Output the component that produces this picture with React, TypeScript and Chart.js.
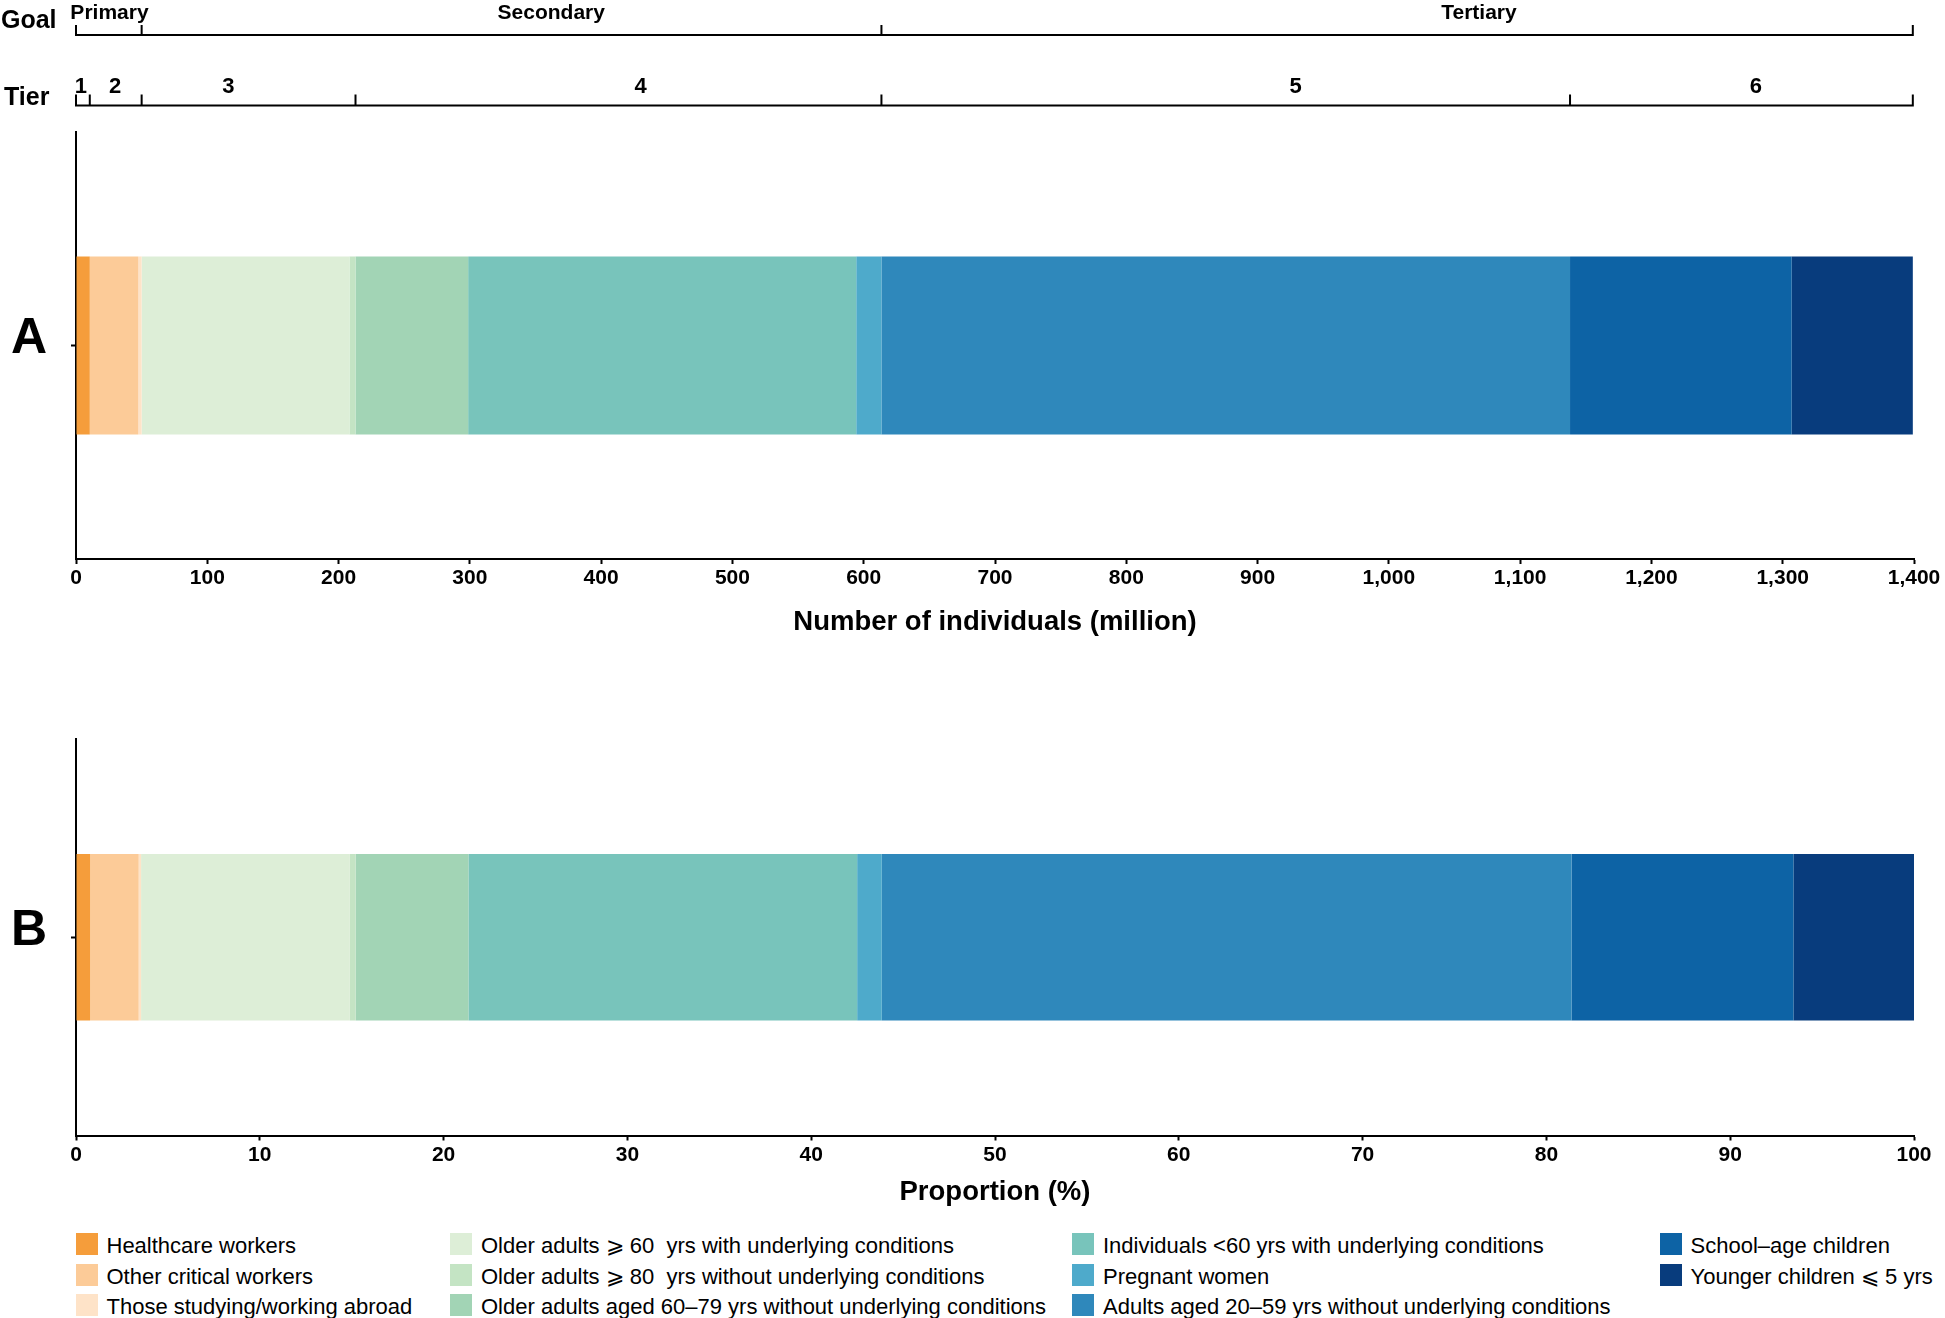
import React, { useEffect, useRef } from 'react';
import { Chart, registerables } from 'chart.js';

Chart.register(...registerables);

// ---------------- data ----------------
const groupLabels = [
  'Healthcare workers',
  'Other critical workers',
  'Those studying/working abroad',
  'Older adults \u2A7E 60  yrs with underlying conditions',
  'Older adults \u2A7E 80  yrs without underlying conditions',
  'Older adults aged 60\u201379 yrs without underlying conditions',
  'Individuals <60 yrs with underlying conditions',
  'Pregnant women',
  'Adults aged 20\u201359 yrs without underlying conditions',
  'School\u2013age children',
  'Younger children \u2A7D 5 yrs',
];
const millions = [10.5, 37, 2.5, 158.3, 4.6, 85.8, 295.6, 19.2, 524.5, 168.8, 92.3];
const percents = [0.77, 2.64, 0.13, 11.36, 0.31, 6.14, 21.15, 1.34, 37.53, 12.07, 6.56];
const groupColors = [
  '#f59d3b', '#fccb98', '#fee3c8',
  '#ddeed7', '#c4e4c4', '#a2d4b5',
  '#78c4bb', '#4eaacb', '#2f88bb',
  '#0d63a5', '#083c7d',
];
const tierOfGroup = [1, 2, 2, 3, 3, 4, 4, 4, 5, 6, 6];
const tierNames = ['1', '2', '3', '4', '5', '6'];
const goalOfTier = [0, 0, 1, 1, 2, 2];
const goalNames = ['Primary', 'Secondary', 'Tertiary'];
const panelALabel = ['A'];
const panelBLabel = ['B'];
const xMaxA = 1400;
const xStepA = 100;
const xMaxB = 100;
const xStepB = 10;
const titleA = 'Number of individuals (million)';
const titleB = 'Proportion (%)';

// label anchors along the x axis (in data units)
const goalLabelAt = [25.5, 362, 1068.6];
const tierLabelAt = [3.7, 29.8, 116, 430, 929, 1279.5];

// ---------------- layout ----------------
const W = 1945;
const H = 1318;
const FONT = '"Liberation Sans", Arial, Helvetica, sans-serif';
const legendColX = [75.5, 450, 1072, 1659.5];
const legendRowY = [1233, 1263.5, 1294];

function cumulative(vals: number[]) {
  const out = [0];
  vals.forEach((v) => out.push(out[out.length - 1] + v));
  return out;
}

const bracketPlugin = {
  id: 'brackets',
  afterDraw(chart: any) {
    const ctx = chart.ctx as CanvasRenderingContext2D;
    const xs = chart.scales.x;
    const cum = cumulative(millions);
    const tierBounds: number[] = [0];
    tierNames.forEach((_, t) => {
      let last = -1;
      tierOfGroup.forEach((tt, i) => { if (tt === t + 1) last = i; });
      tierBounds.push(cum[last + 1]);
    });
    const goalBounds: number[] = [0];
    goalNames.forEach((_, g) => {
      let last = -1;
      goalOfTier.forEach((gg, t) => { if (gg === g) last = t; });
      goalBounds.push(tierBounds[last + 1]);
    });

    const drawBracket = (bounds: number[], y: number, h: number) => {
      ctx.save();
      ctx.strokeStyle = '#000';
      ctx.lineWidth = 2;
      ctx.beginPath();
      const x0 = xs.getPixelForValue(bounds[0]);
      const x1 = xs.getPixelForValue(bounds[bounds.length - 1]);
      ctx.moveTo(x0 - 1, y);
      ctx.lineTo(x1 + 1, y);
      bounds.forEach((b) => {
        const px = xs.getPixelForValue(b);
        ctx.moveTo(px, y);
        ctx.lineTo(px, y - h);
      });
      ctx.stroke();
      ctx.restore();
    };
    drawBracket(goalBounds, 35, 10);
    drawBracket(tierBounds, 105.5, 11);

    ctx.save();
    ctx.fillStyle = '#000';
    ctx.textBaseline = 'alphabetic';
    ctx.textAlign = 'left';
    ctx.font = `bold 25px ${FONT}`;
    ctx.fillText('Goal', 1, 27.5);
    ctx.fillText('Tier', 4, 104.5);
    ctx.textAlign = 'center';
    ctx.font = `bold 21px ${FONT}`;
    goalNames.forEach((g, i) => ctx.fillText(g, xs.getPixelForValue(goalLabelAt[i]), 18.5));
    ctx.font = `bold 22px ${FONT}`;
    tierNames.forEach((t, i) => ctx.fillText(t, xs.getPixelForValue(tierLabelAt[i]), 93.3));
    ctx.restore();
  },
};

type PanelProps = {
  top: number;
  height: number;
  values: number[];
  panel: string[];
  xMax: number;
  xStep: number;
  title: string;
  padTop: number;
  axisHeight: number;
  tickPad: number;
  titlePadBottom: number;
  barPct: number;
  brackets: boolean;
};

function Panel(p: PanelProps) {
  const ref = useRef<HTMLCanvasElement | null>(null);
  useEffect(() => {
    if (!ref.current) return;
    const chart = new Chart(ref.current, {
      type: 'bar',
      data: {
        labels: p.panel,
        datasets: groupLabels.map((lab, i) => ({
          label: lab,
          data: [p.values[i]],
          backgroundColor: groupColors[i],
          borderWidth: 0,
          barPercentage: p.barPct,
          categoryPercentage: 1,
          stack: 's',
        })),
      },
      options: {
        indexAxis: 'y',
        animation: false,
        responsive: false,
        devicePixelRatio: 1,
        layout: { padding: { top: p.padTop, right: 31, bottom: 0, left: 0 } },
        plugins: { legend: { display: false }, tooltip: { enabled: false } },
        scales: {
          x: {
            type: 'linear',
            stacked: true,
            min: 0,
            max: p.xMax,
            border: { display: true, color: '#000', width: 2 },
            grid: { drawOnChartArea: false, drawTicks: true, tickLength: 5, tickColor: '#000', tickWidth: 2 },
            ticks: {
              stepSize: p.xStep,
              autoSkip: false,
              maxRotation: 0,
              padding: p.tickPad,
              color: '#000',
              font: { family: FONT, size: 21, weight: 'bold' },
              callback: (v: any) => Number(v).toLocaleString('en-US'),
            },
            title: {
              display: true,
              text: p.title,
              color: '#000',
              font: { family: FONT, size: 27.5, weight: 'bold' },
              padding: { top: 0, bottom: p.titlePadBottom },
            },
            afterFit: (s: any) => { s.height = p.axisHeight; },
          },
          y: {
            type: 'category',
            stacked: true,
            border: { display: true, color: '#000', width: 2 },
            grid: { offset: false, drawOnChartArea: false, drawTicks: true, tickLength: 5, tickColor: '#000', tickWidth: 2 },
            ticks: {
              padding: 24,
              labelOffset: -6,
              color: '#000',
              font: { family: FONT, size: 50, weight: 'bold' },
            },
            afterFit: (s: any) => { s.width = 76; },
          },
        },
      },
      plugins: p.brackets ? [bracketPlugin] : [],
    } as any);
    return () => chart.destroy();
  }, []);
  return (
    <canvas
      ref={ref}
      width={W}
      height={p.height}
      style={{ position: 'absolute', left: 0, top: p.top, width: W, height: p.height }}
    />
  );
}

export default function App() {
  return (
    <div style={{ position: 'absolute', left: 0, top: 0, width: W, height: H, background: '#fff', overflow: 'hidden' }}>
      <Panel
        top={0}
        height={650}
        values={millions}
        panel={panelALabel}
        xMax={xMaxA}
        xStep={xStepA}
        title={titleA}
        padTop={132}
        axisHeight={91}
        tickPad={2}
        titlePadBottom={11}
        barPct={0.417}
        brackets={true}
      />
      <Panel
        top={650}
        height={570}
        values={percents}
        panel={panelBLabel}
        xMax={xMaxB}
        xStep={xStepB}
        title={titleB}
        padTop={89}
        axisHeight={84.5}
        tickPad={2}
        titlePadBottom={11.5}
        barPct={0.42}
        brackets={false}
      />
      {groupLabels.map((lab, i) => (
        <div
          key={i}
          style={{
            position: 'absolute',
            left: legendColX[Math.floor(i / 3)],
            top: legendRowY[i % 3],
            height: 22,
            display: 'flex',
            alignItems: 'center',
            whiteSpace: 'pre',
          }}
        >
          <span style={{ display: 'inline-block', width: 22, height: 22, background: groupColors[i], marginRight: 9 }} />
          <span style={{ font: `22px ${FONT}`, color: '#000', position: 'relative', top: 2, lineHeight: '22px' }}>{lab}</span>
        </div>
      ))}
    </div>
  );
}
